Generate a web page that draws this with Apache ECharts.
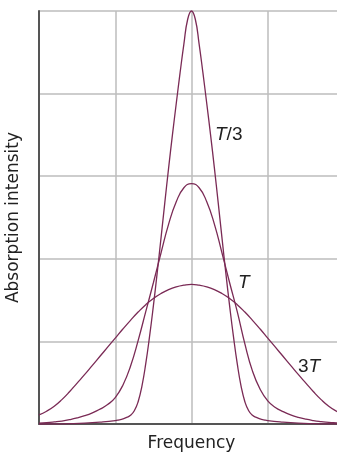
<!DOCTYPE html>
<html>
<head>
<meta charset="utf-8">
<script src="https://cdn.jsdelivr.net/npm/echarts@6/dist/echarts.min.js"></script>
<style>
html,body{margin:0;padding:0;background:#fff;}
#chart{width:337px;height:454px;}
</style>
</head>
<body>
<div id="chart"></div>
<script>
// Frequency positions (arbitrary units, line centre at 2) for the T and 3T curves
var freq = [0,0.1,0.2,0.3,0.4,0.5,0.6,0.7,0.8,0.9,1.0,1.1,1.2,1.3,1.4,1.5,1.6,1.7,1.8,1.9,
  2.0,
  2.1,2.2,2.3,2.4,2.5,2.6,2.7,2.8,2.9,3.0,3.1,3.2,3.3,3.4,3.5,3.6,3.7,3.8,3.9,4.0];

// Finer frequency positions for the narrow T/3 curve
var freqNarrow = [0,0.2,0.4,0.6,0.8,
  1.0,1.05,1.1,1.15,1.2,1.25,1.3,1.35,1.4,1.45,1.5,1.55,1.6,1.65,1.7,1.75,1.8,1.85,1.9,1.95,
  2.0,
  2.05,2.1,2.15,2.2,2.25,2.3,2.35,2.4,2.45,2.5,2.55,2.6,2.65,2.7,2.75,2.8,2.85,2.9,2.95,3.0,
  3.2,3.4,3.6,3.8,4.0];

// Absorption intensity at temperature T/3 (on freqNarrow)
var intensityT3 = [0,0.001,0.004,0.01,0.022,
  0.04,0.05,0.062,0.08,0.105,0.16,0.27,0.46,0.73,1.06,1.43,1.83,2.25,2.68,3.1,3.5,3.88,4.25,4.6,4.9,
  5.0,
  4.9,4.6,4.25,3.88,3.5,3.1,2.68,2.25,1.83,1.43,1.06,0.73,0.46,0.27,0.16,0.105,0.08,0.062,0.05,0.04,
  0.022,0.01,0.004,0.001,0];

// Absorption intensity at temperature T (on freq)
var intensityT = [0.01,0.016,0.025,0.036,0.052,0.073,0.10,0.135,0.18,0.235,0.32,0.47,0.70,1.01,1.36,1.71,2.07,2.42,2.69,2.86,
  2.91,
  2.86,2.69,2.42,2.07,1.71,1.36,0.97,0.64,0.42,0.28,0.20,0.15,0.11,0.08,0.058,0.042,0.03,0.02,0.014,0.009];

// Absorption intensity at temperature 3T (on freq)
var intensity3T = [0.11,0.155,0.215,0.295,0.39,0.495,0.60,0.71,0.82,0.93,1.04,1.15,1.255,1.355,1.445,1.52,1.58,1.627,1.66,1.68,
  1.69,
  1.68,1.66,1.627,1.58,1.52,1.445,1.355,1.255,1.15,1.04,0.93,0.82,0.71,0.60,0.495,0.39,0.295,0.215,0.155,0.11];

var curveNames = ['T/3', 'T', '3T'];

function pairs(xs, ys) {
  var out = [];
  for (var i = 0; i < xs.length; i++) out.push([xs[i], ys[i]]);
  return out;
}

var lineColor = '#7a2a55';
var FONT = '"Liberation Sans", Arial, Helvetica, sans-serif';
var NAMEFONT = '"DejaVu Sans", "Liberation Sans", sans-serif';

var chart = echarts.init(document.getElementById('chart'), null, {renderer: 'canvas'});

function lineSeries(name, xs, ys) {
  return {
    name: name,
    type: 'line',
    data: pairs(xs, ys),
    smooth: 0.5,
    symbol: 'none',
    clip: false,
    lineStyle: {color: lineColor, width: 1.3},
    z: 5
  };
}

chart.setOption({
  animation: false,
  backgroundColor: '#ffffff',
  grid: {left: 39, top: 11, width: 305, height: 413, containLabel: false, outerBoundsMode: 'none'},
  xAxis: {
    type: 'value', min: 0, max: 4, interval: 1,
    name: 'Frequency', nameLocation: 'middle', nameGap: 11,
    nameTextStyle: {fontFamily: NAMEFONT, fontSize: 17, color: '#222'},
    axisLine: {show: true, onZero: false, lineStyle: {color: '#555', width: 2}},
    axisTick: {show: false},
    axisLabel: {show: false},
    splitLine: {show: true, lineStyle: {color: '#bdbdbd', width: 1.5}}
  },
  yAxis: {
    type: 'value', min: 0, max: 5, interval: 1,
    name: 'Absorption intensity', nameLocation: 'middle', nameGap: 17,
    nameTextStyle: {fontFamily: NAMEFONT, fontSize: 17, color: '#222'},
    axisLine: {show: true, onZero: false, lineStyle: {color: '#555', width: 2}},
    axisTick: {show: false},
    axisLabel: {show: false},
    splitLine: {show: true, lineStyle: {color: '#bdbdbd', width: 1.5}}
  },
  series: [
    lineSeries(curveNames[0], freqNarrow, intensityT3),
    lineSeries(curveNames[1], freq, intensityT),
    lineSeries(curveNames[2], freq, intensity3T)
  ],
  graphic: [
    {type: 'text', x: 215, y: 135, z: 10, style: {
      text: '{i|T}{n|/3}', verticalAlign: 'middle', align: 'left',
      rich: {i: {fontFamily: FONT, fontSize: 19, fontStyle: 'italic', fill: '#222'},
             n: {fontFamily: FONT, fontSize: 19, fill: '#222'}}}},
    {type: 'text', x: 238, y: 283, z: 10, style: {
      text: '{i|T}', verticalAlign: 'middle', align: 'left',
      rich: {i: {fontFamily: FONT, fontSize: 19, fontStyle: 'italic', fill: '#222'}}}},
    {type: 'text', x: 298, y: 367, z: 10, style: {
      text: '{n|3}{i|T}', verticalAlign: 'middle', align: 'left',
      rich: {i: {fontFamily: FONT, fontSize: 19, fontStyle: 'italic', fill: '#222'},
             n: {fontFamily: FONT, fontSize: 19, fill: '#222'}}}}
  ]
});
</script>
</body>
</html>
